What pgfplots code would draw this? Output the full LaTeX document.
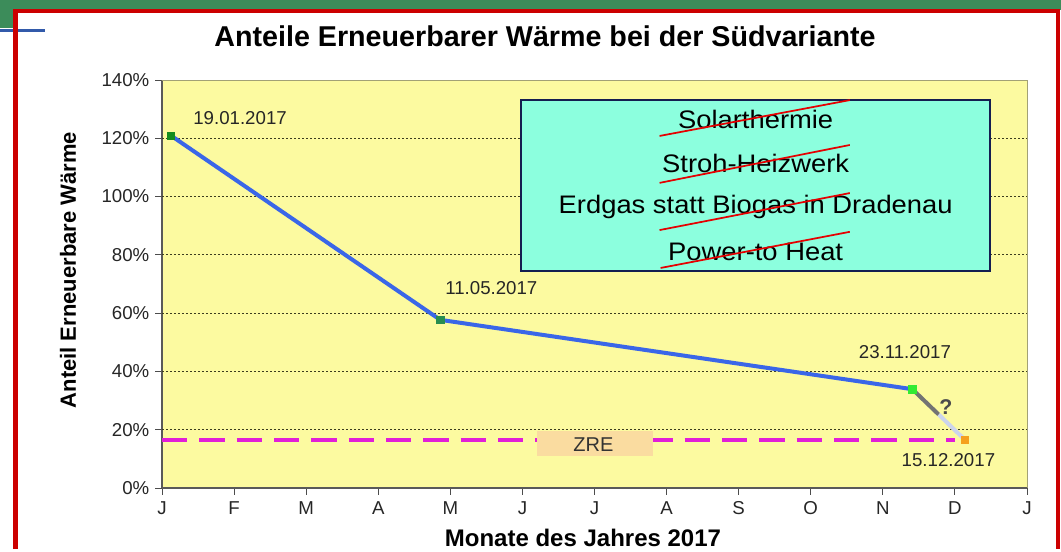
\documentclass[border=0pt]{standalone}
\usepackage{fontspec}
\setmainfont{Liberation Sans}
\usepackage{pgfplots}
\pgfplotsset{compat=1.18}
\definecolor{plotbg}{RGB}{252,250,160}
\definecolor{boxfill}{RGB}{140,255,222}
\definecolor{boxedge}{RGB}{20,30,80}
\definecolor{lineblue}{RGB}{58,102,232}
\definecolor{zremag}{RGB}{225,30,215}
\definecolor{zrebox}{RGB}{250,220,160}
\definecolor{gridc}{RGB}{60,60,30}
\definecolor{frameR}{RGB}{204,0,0}
\definecolor{topgreen}{RGB}{60,140,90}
\definecolor{topblue}{RGB}{50,90,170}
\definecolor{mk1}{RGB}{20,140,30}
\definecolor{mk2}{RGB}{40,140,80}
\definecolor{mk3}{RGB}{50,235,50}
\definecolor{mk4}{RGB}{245,160,30}
\begin{document}
\begin{tikzpicture}
\begin{scope}[x=0.75pt,y=-0.75pt,shift={(0,411.75pt)}]
\fill[white] (0,0) rectangle (1061,549);
\useasboundingbox (0,0) rectangle (1061,549);
\fill[topgreen] (0,0) rectangle (1061,10);
\fill[topgreen] (0,0) rectangle (14,28);
\fill[topblue] (0,29) rectangle (45,32);
\fill[frameR] (13,9) rectangle (1060,13);
\fill[frameR] (13,9) rectangle (18,549);
\fill[frameR] (1056,9) rectangle (1060,549);
\end{scope}
\begin{axis}[
  at={(121.5pt,45.75pt)}, anchor=south west,
  scale only axis, width=648.75pt, height=306pt,
  xmin=0, xmax=12, ymin=0, ymax=140,
  axis background/.style={fill=plotbg},
  axis lines*=left,
  axis line style={draw=black!65, line width=0.8pt},
  xtick={0,...,12},
  xticklabels={J,F,M,A,M,J,J,A,S,O,N,D,J},
  ytick={0,20,...,140},
  yticklabel={\pgfmathprintnumber{\tick}\%},
  /pgf/number format/assume math mode=true,
  tick align=outside, major tick length=5pt,
  tick style={black!70, line width=0.7pt},
  ticklabel style={font=\fontsize{14}{15}\selectfont, text=black!85},
  xticklabel style={yshift=-0.5pt, text height=10.5pt, text depth=0pt},
  yticklabel style={xshift=-1pt},
  title={Anteile Erneuerbarer Wärme bei der Südvariante},
  title style={at={(axis description cs:0.4428,1.087)}, anchor=center, font=\bfseries\fontsize{21.5}{24}\selectfont},
  xlabel={Monate des Jahres 2017},
  x label style={at={(axis description cs:0.4867,-0.1225)}, anchor=center, font=\bfseries\fontsize{18}{20}\selectfont},
  ylabel={Anteil Erneuerbare Wärme},
  y label style={at={(axis description cs:-0.1087,0.534)}, anchor=center, rotate=0, font=\bfseries\fontsize{16.5}{18}\selectfont},
  clip=false,
]
% light frame top/right
\draw[black!30!plotbg!70!gray, line width=0.7pt] (rel axis cs:0,1) -- (rel axis cs:1,1) -- (rel axis cs:1,0);
% grid lines
\pgfplotsinvokeforeach{20,40,60,80,100,120}{
  \draw[gridc, line width=0.6pt, dash pattern=on 1.8pt off 1.2pt] (axis cs:0,#1) -- (axis cs:12,#1);
}
% ZRE line
\addplot[zremag, line width=2.4pt, dash pattern=on 19pt off 9pt] coordinates {(0,16.5) (11.0,16.5)};
% ZRE box
\draw[fill=zrebox, draw=none] (axis cs:5.204,19.6) rectangle (axis cs:6.815,11.0);
\node[font=\fontsize{15}{16}\selectfont, text=black!80] at (axis cs:5.986,14.8) {ZRE};
% data line
\addplot[lineblue, line width=3pt] coordinates {(0.125,120.9) (3.86,57.7) (10.41,33.9)};
\addplot[gray!90!black, line width=3pt] coordinates {(10.41,33.9) (10.775,25.2)};
\addplot[gray!40!lineblue!30!white, line width=3pt] coordinates {(10.775,25.2) (11.14,16.5)};
\addplot[only marks, mark=square*, mark size=2.8pt, mark options={draw=mk1, fill=mk1}] coordinates {(0.125,120.9)};
\addplot[only marks, mark=square*, mark size=2.8pt, mark options={draw=mk2, fill=mk2}] coordinates {(3.86,57.7)};
\addplot[only marks, mark=square*, mark size=2.8pt, mark options={draw=mk3, fill=mk3}] coordinates {(10.41,33.9)};
\addplot[only marks, mark=square*, mark size=2.8pt, mark options={draw=mk4, fill=mk4}] coordinates {(11.14,16.5)};
% date labels
\node[font=\fontsize{14}{15}\selectfont, text=black!85] at (axis cs:1.083,127.0) {19.01.2017};
\node[font=\fontsize{14}{15}\selectfont, text=black!85] at (axis cs:4.569,68.6) {11.05.2017};
\node[font=\fontsize{14}{15}\selectfont, text=black!85] at (axis cs:10.306,46.7) {23.11.2017};
\node[font=\fontsize{14}{15}\selectfont, text=black!85] at (axis cs:10.91,9.6) {15.12.2017};
\node[font=\bfseries\fontsize{16}{17}\selectfont, text=black!70] at (axis cs:10.875,27.9) {?};
% text box
\draw[fill=boxfill, draw=boxedge, line width=1.5pt] (axis cs:4.982,133.1) rectangle (axis cs:11.486,74.5);
\node[font=\fontsize{19}{21}\selectfont, xscale=1.08] at (axis cs:8.236,126.3) {Solarthermie};
\node[font=\fontsize{19}{21}\selectfont, xscale=1.08] at (axis cs:8.236,111.2) {Stroh-Heizwerk};
\node[font=\fontsize{19}{21}\selectfont, xscale=1.08] at (axis cs:8.236,96.4) {Erdgas statt Biogas in Dradenau};
\node[font=\fontsize{19}{21}\selectfont, xscale=1.08] at (axis cs:8.236,81.0) {Power-to Heat};
\draw[red!90!black, line width=1.3pt] (axis cs:6.903,120.8) -- (axis cs:9.542,133.1);
\draw[red!90!black, line width=1.3pt] (axis cs:6.903,104.7) -- (axis cs:9.542,117.7);
\draw[red!90!black, line width=1.3pt] (axis cs:6.903,88.5) -- (axis cs:9.542,101.2);
\draw[red!90!black, line width=1.3pt] (axis cs:6.917,75.5) -- (axis cs:9.542,87.9);
\end{axis}
\end{tikzpicture}
\end{document}
